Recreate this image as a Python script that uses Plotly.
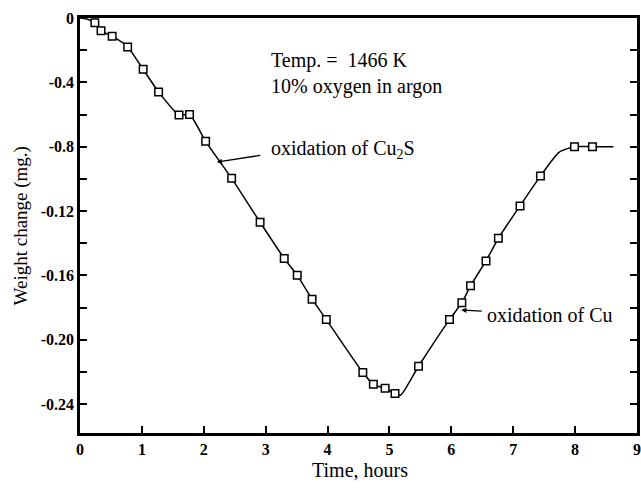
import plotly.graph_objects as go

# Measured points (time in hours, weight change in axis units)
time_pts = [0.24, 0.34, 0.52, 0.77, 1.02, 1.27, 1.60, 1.77, 2.03, 2.45, 2.91,
            3.30, 3.51, 3.75, 3.98, 4.57, 4.74, 4.93, 5.09, 5.47, 5.97, 6.17,
            6.31, 6.56, 6.76, 7.11, 7.44, 7.99, 8.28]
weight_pts = [-0.0030, -0.0080, -0.0113, -0.0180, -0.0319, -0.0460, -0.0603,
              -0.0600, -0.0767, -0.0997, -0.1270, -0.1495, -0.1600, -0.1748,
              -0.1875, -0.2204, -0.2277, -0.2302, -0.2335, -0.2165, -0.1875,
              -0.1770, -0.1665, -0.1510, -0.1370, -0.1168, -0.0983, -0.0800,
              -0.0800]

# Fitted curve drawn through the data
curve_time = [0.0, 0.10] + time_pts[:19] + [5.18] + time_pts[19:27] + [7.74] + time_pts[27:] + [8.62]
curve_weight = [0.0, -0.0005] + weight_pts[:19] + [-0.2345] + weight_pts[19:27] + [-0.0835] + weight_pts[27:] + [-0.0800]

y_tickvals = [0, -0.04, -0.08, -0.12, -0.16, -0.20, -0.24]
y_ticktext = ["0", "-0.4", "-0.8", "-0.12", "-0.16", "-0.20", "-0.24"]
x_tickvals = [0, 1, 2, 3, 4, 5, 6, 7, 8, 9]

SERIF = "Liberation Serif, Times New Roman, serif"

fig = go.Figure()
fig.add_trace(go.Scatter(
    x=curve_time, y=curve_weight, mode="lines",
    line=dict(color="black", width=1.5, shape="spline", smoothing=0.6),
    hoverinfo="skip", showlegend=False, cliponaxis=True))
fig.add_trace(go.Scatter(
    x=time_pts, y=weight_pts, mode="markers",
    marker=dict(symbol="square", size=7.5, color="white",
                line=dict(color="black", width=1.5)),
    showlegend=False))

fig.update_layout(
    width=641, height=492,
    margin=dict(l=80, r=4, t=18, b=59, autoexpand=False),
    plot_bgcolor="white", paper_bgcolor="white",
    font=dict(family=SERIF, color="black"),
    xaxis=dict(range=[0, 9], tickvals=x_tickvals, ticks="inside", ticklen=7,
               tickwidth=1.5, tickcolor="black", ticklabeloverflow="allow",
               showline=True, linecolor="black", linewidth=2.5, mirror=True,
               showgrid=False, zeroline=False,
               tickfont=dict(family=SERIF, size=16, color="black", weight="bold")),
    yaxis=dict(range=[-0.258, 0], tickvals=y_tickvals, ticktext=y_ticktext,
               ticks="inside", ticklen=7, tickwidth=1.5, tickcolor="black",
               ticklabeloverflow="allow",
               minor=dict(tickvals=[-0.02, -0.06, -0.10, -0.14, -0.18, -0.22],
                          ticks="inside", ticklen=7, tickwidth=1.5, tickcolor="black"),
               showline=True, linecolor="black", linewidth=2.5, mirror="ticks",
               showgrid=False, zeroline=False,
               tickfont=dict(family=SERIF, size=16, color="black", weight="bold")),
)

annots = [
    dict(x=3.06, y=-0.0265, xref="x", yref="y", text="Temp. =  1466 K",
         xanchor="left", yanchor="middle", showarrow=False,
         font=dict(family=SERIF, size=20)),
    dict(x=3.06, y=-0.0425, xref="x", yref="y", text="10% oxygen in argon",
         xanchor="left", yanchor="middle", showarrow=False,
         font=dict(family=SERIF, size=20)),
    dict(x=3.06, y=-0.0815, xref="x", yref="y", text="oxidation of Cu<sub>2</sub>S",
         xanchor="left", yanchor="middle", showarrow=False,
         font=dict(family=SERIF, size=20)),
    dict(x=2.21, y=-0.0896, xref="x", yref="y", text="", showarrow=True,
         ax=45, ay=-7, arrowhead=2, arrowsize=0.8, arrowwidth=1.3, arrowcolor="black"),
    dict(x=6.55, y=-0.1848, xref="x", yref="y", text="oxidation of Cu",
         xanchor="left", yanchor="middle", showarrow=False,
         font=dict(family=SERIF, size=20)),
    dict(x=6.16, y=-0.1816, xref="x", yref="y", text="", showarrow=True,
         ax=22, ay=1, arrowhead=2, arrowsize=0.8, arrowwidth=1.3, arrowcolor="black"),
    dict(x=-0.106, y=0.50, xref="paper", yref="paper", text="Weight change (mg.)",
         textangle=-90, showarrow=False, xanchor="center", yanchor="middle",
         font=dict(family=SERIF, size=19)),
    dict(x=0.503, y=-0.089, xref="paper", yref="paper", text="Time, hours",
         showarrow=False, xanchor="center", yanchor="middle",
         font=dict(family=SERIF, size=20)),
]
fig.update_layout(annotations=annots)

fig.write_html("out.html",
               config={"displayModeBar": False},
               post_script="document.body.style.margin='0';document.body.style.overflow='hidden';")
